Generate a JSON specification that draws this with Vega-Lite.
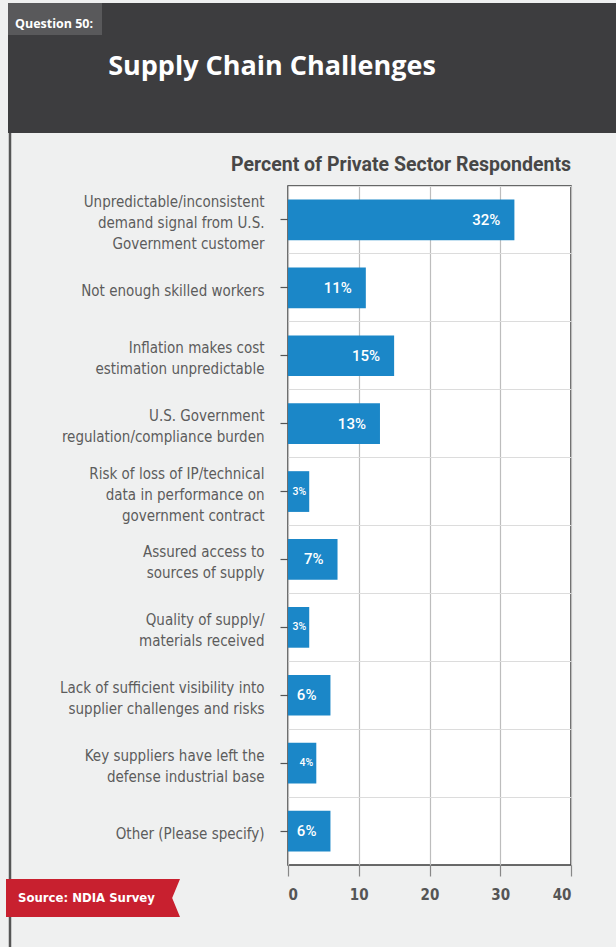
{
  "$schema": "https://vega.github.io/schema/vega-lite/v6.json",
  "autosize": "none",
  "width": 283,
  "height": 679,
  "padding": {"left": 288, "top": 186, "right": 45, "bottom": 82},
  "background": "#eff0f0",
  "config": {
    "view": {"stroke": "#3a3a3a", "strokeWidth": 1.5, "fill": "white"},
    "font": "Roboto"
  },
  "data": {
    "values": [
      {"challenge": "Unpredictable/inconsistent|demand signal from U.S.|Government customer", "value": 32, "label": "32%"},
      {"challenge": "Not enough skilled workers", "value": 11, "label": "11%"},
      {"challenge": "Inflation makes cost|estimation unpredictable", "value": 15, "label": "15%"},
      {"challenge": "U.S. Government|regulation/compliance burden", "value": 13, "label": "13%"},
      {"challenge": "Risk of loss of IP/technical|data in performance on|government contract", "value": 3, "label": "3%"},
      {"challenge": "Assured access to|sources of supply", "value": 7, "label": "7%"},
      {"challenge": "Quality of supply/|materials received", "value": 3, "label": "3%"},
      {"challenge": "Lack of sufficient visibility into|supplier challenges and risks", "value": 6, "label": "6%"},
      {"challenge": "Key suppliers have left the|defense industrial base", "value": 4, "label": "4%"},
      {"challenge": "Other (Please specify)", "value": 6, "label": "6%"}
    ]
  },
  "resolve": {"axis": {"y": "independent"}},
  "layer": [
    {
      "mark": {"type": "bar", "height": {"band": 0.6}, "color": "#1b87c8"},
      "encoding": {
        "y": {
          "field": "challenge", "type": "nominal", "sort": null,
          "scale": {"paddingInner": 0, "paddingOuter": 0},
          "axis": {
            "title": null, "orient": "left", "grid": false, "domain": false,
            "tickSize": 8, "tickColor": "#555555", "tickWidth": 1.2,
            "labelExpr": "split(datum.label, '|')",
            "labelOffset": {"expr": "3 - (length(split(datum.label, '|')) - 1) * 10.5"},
            "labelFont": "DejaVu Sans Condensed, Roboto Condensed, Roboto, sans-serif",
            "labelFontSize": 15, "labelLineHeight": 21,
            "labelColor": "#5c5c5c", "labelPadding": 16, "labelLimit": 0
          }
        },
        "x": {
          "field": "value", "type": "quantitative",
          "scale": {"domain": [0, 40], "nice": false},
          "axis": {
            "title": null, "values": [0, 10, 20, 30, 40],
            "grid": true, "gridColor": "#bdbdbd", "gridWidth": 1.2,
            "domain": false, "tickSize": 11, "tickColor": "#888888", "tickWidth": 1.2,
            "labelFont": "DejaVu Sans Condensed, Roboto Condensed, Roboto, sans-serif", "labelFontWeight": "bold",
            "labelFontSize": 15, "labelColor": "#555555", "labelPadding": 11
          }
        }
      }
    },
    {
      "transform": [{"filter": "datum.value >= 5"}],
      "mark": {"type": "text", "align": "right", "baseline": "middle", "dx": -14, "color": "white", "fontSize": 15, "fontWeight": 500, "font": "Roboto"},
      "encoding": {
        "y": {
          "field": "challenge", "type": "nominal", "sort": null,
          "axis": {
            "orient": "right", "grid": true, "bandPosition": 0,
            "gridColor": "#dcdcdc", "gridWidth": 1.2,
            "labels": false, "ticks": false, "domain": false, "title": null
          }
        },
        "x": {"field": "value", "type": "quantitative"},
        "text": {"field": "label"}
      }
    },
    {
      "transform": [{"filter": "datum.value < 5"}],
      "mark": {"type": "text", "align": "right", "baseline": "middle", "dx": -3, "color": "white", "fontSize": 10.5, "fontWeight": 500, "font": "Roboto"},
      "encoding": {
        "y": {"field": "challenge", "type": "nominal", "sort": null, "axis": null},
        "x": {"field": "value", "type": "quantitative"},
        "text": {"field": "label"}
      }
    },
    {
      "data": {"values": [{"text": "Percent of Private Sector Respondents"}]},
      "mark": {"type": "text", "align": "right", "baseline": "alphabetic", "color": "#474747", "font": "Roboto", "fontWeight": "bold", "fontSize": 19.5},
      "encoding": {
        "x": {"datum": 40, "type": "quantitative"}, "y": {"value": -15},
        "text": {"field": "text"}
      }
    },
    {
      "data": {"values": [{"part": "header"}]},
      "mark": {"type": "rect", "color": "#3d3d3f"},
      "encoding": {
        "x": {"value": -280}, "x2": {"value": 328},
        "y": {"value": -183}, "y2": {"value": -53}
      }
    },
    {
      "data": {"values": [{"part": "question box"}]},
      "mark": {"type": "rect", "color": "#59595b"},
      "encoding": {
        "x": {"value": -280}, "x2": {"value": -186},
        "y": {"value": -183}, "y2": {"value": -151}
      }
    },
    {
      "data": {"values": [{"text": "Question 50:"}]},
      "mark": {"type": "text", "align": "left", "baseline": "alphabetic", "color": "white", "font": "Open Sans", "fontWeight": "bold", "fontSize": 12.5},
      "encoding": {
        "x": {"value": -273}, "y": {"value": -158},
        "text": {"field": "text"}
      }
    },
    {
      "data": {"values": [{"text": "Supply Chain Challenges"}]},
      "mark": {"type": "text", "align": "center", "baseline": "alphabetic", "color": "white", "font": "Open Sans", "fontWeight": "bold", "fontSize": 27},
      "encoding": {
        "x": {"value": -16}, "y": {"value": -111},
        "text": {"field": "text"}
      }
    },
    {
      "data": {"values": [{"part": "left border"}]},
      "mark": {"type": "rule", "color": "#555555", "strokeWidth": 2.5},
      "encoding": {
        "x": {"value": -278},
        "y": {"value": -53}, "y2": {"value": 761}
      }
    },
    {
      "data": {"values": [{"part": "source badge"}]},
      "mark": {"type": "point", "filled": true, "opacity": 1, "color": "#c8202f", "strokeWidth": 0,
        "shape": "M -1 -0.218 L 1 -0.218 L 0.91 0 L 1 0.218 L -1 0.218 Z", "size": 30276},
      "encoding": {
        "x": {"value": -195}, "y": {"value": 712}
      }
    },
    {
      "data": {"values": [{"text": "Source: NDIA Survey"}]},
      "mark": {"type": "text", "align": "left", "baseline": "middle", "color": "white", "font": "DejaVu Sans Condensed, Roboto Condensed, Roboto, sans-serif", "fontWeight": "bold", "fontSize": 13},
      "encoding": {
        "x": {"value": -270}, "y": {"value": 712},
        "text": {"field": "text"}
      }
    }
  ]
}
